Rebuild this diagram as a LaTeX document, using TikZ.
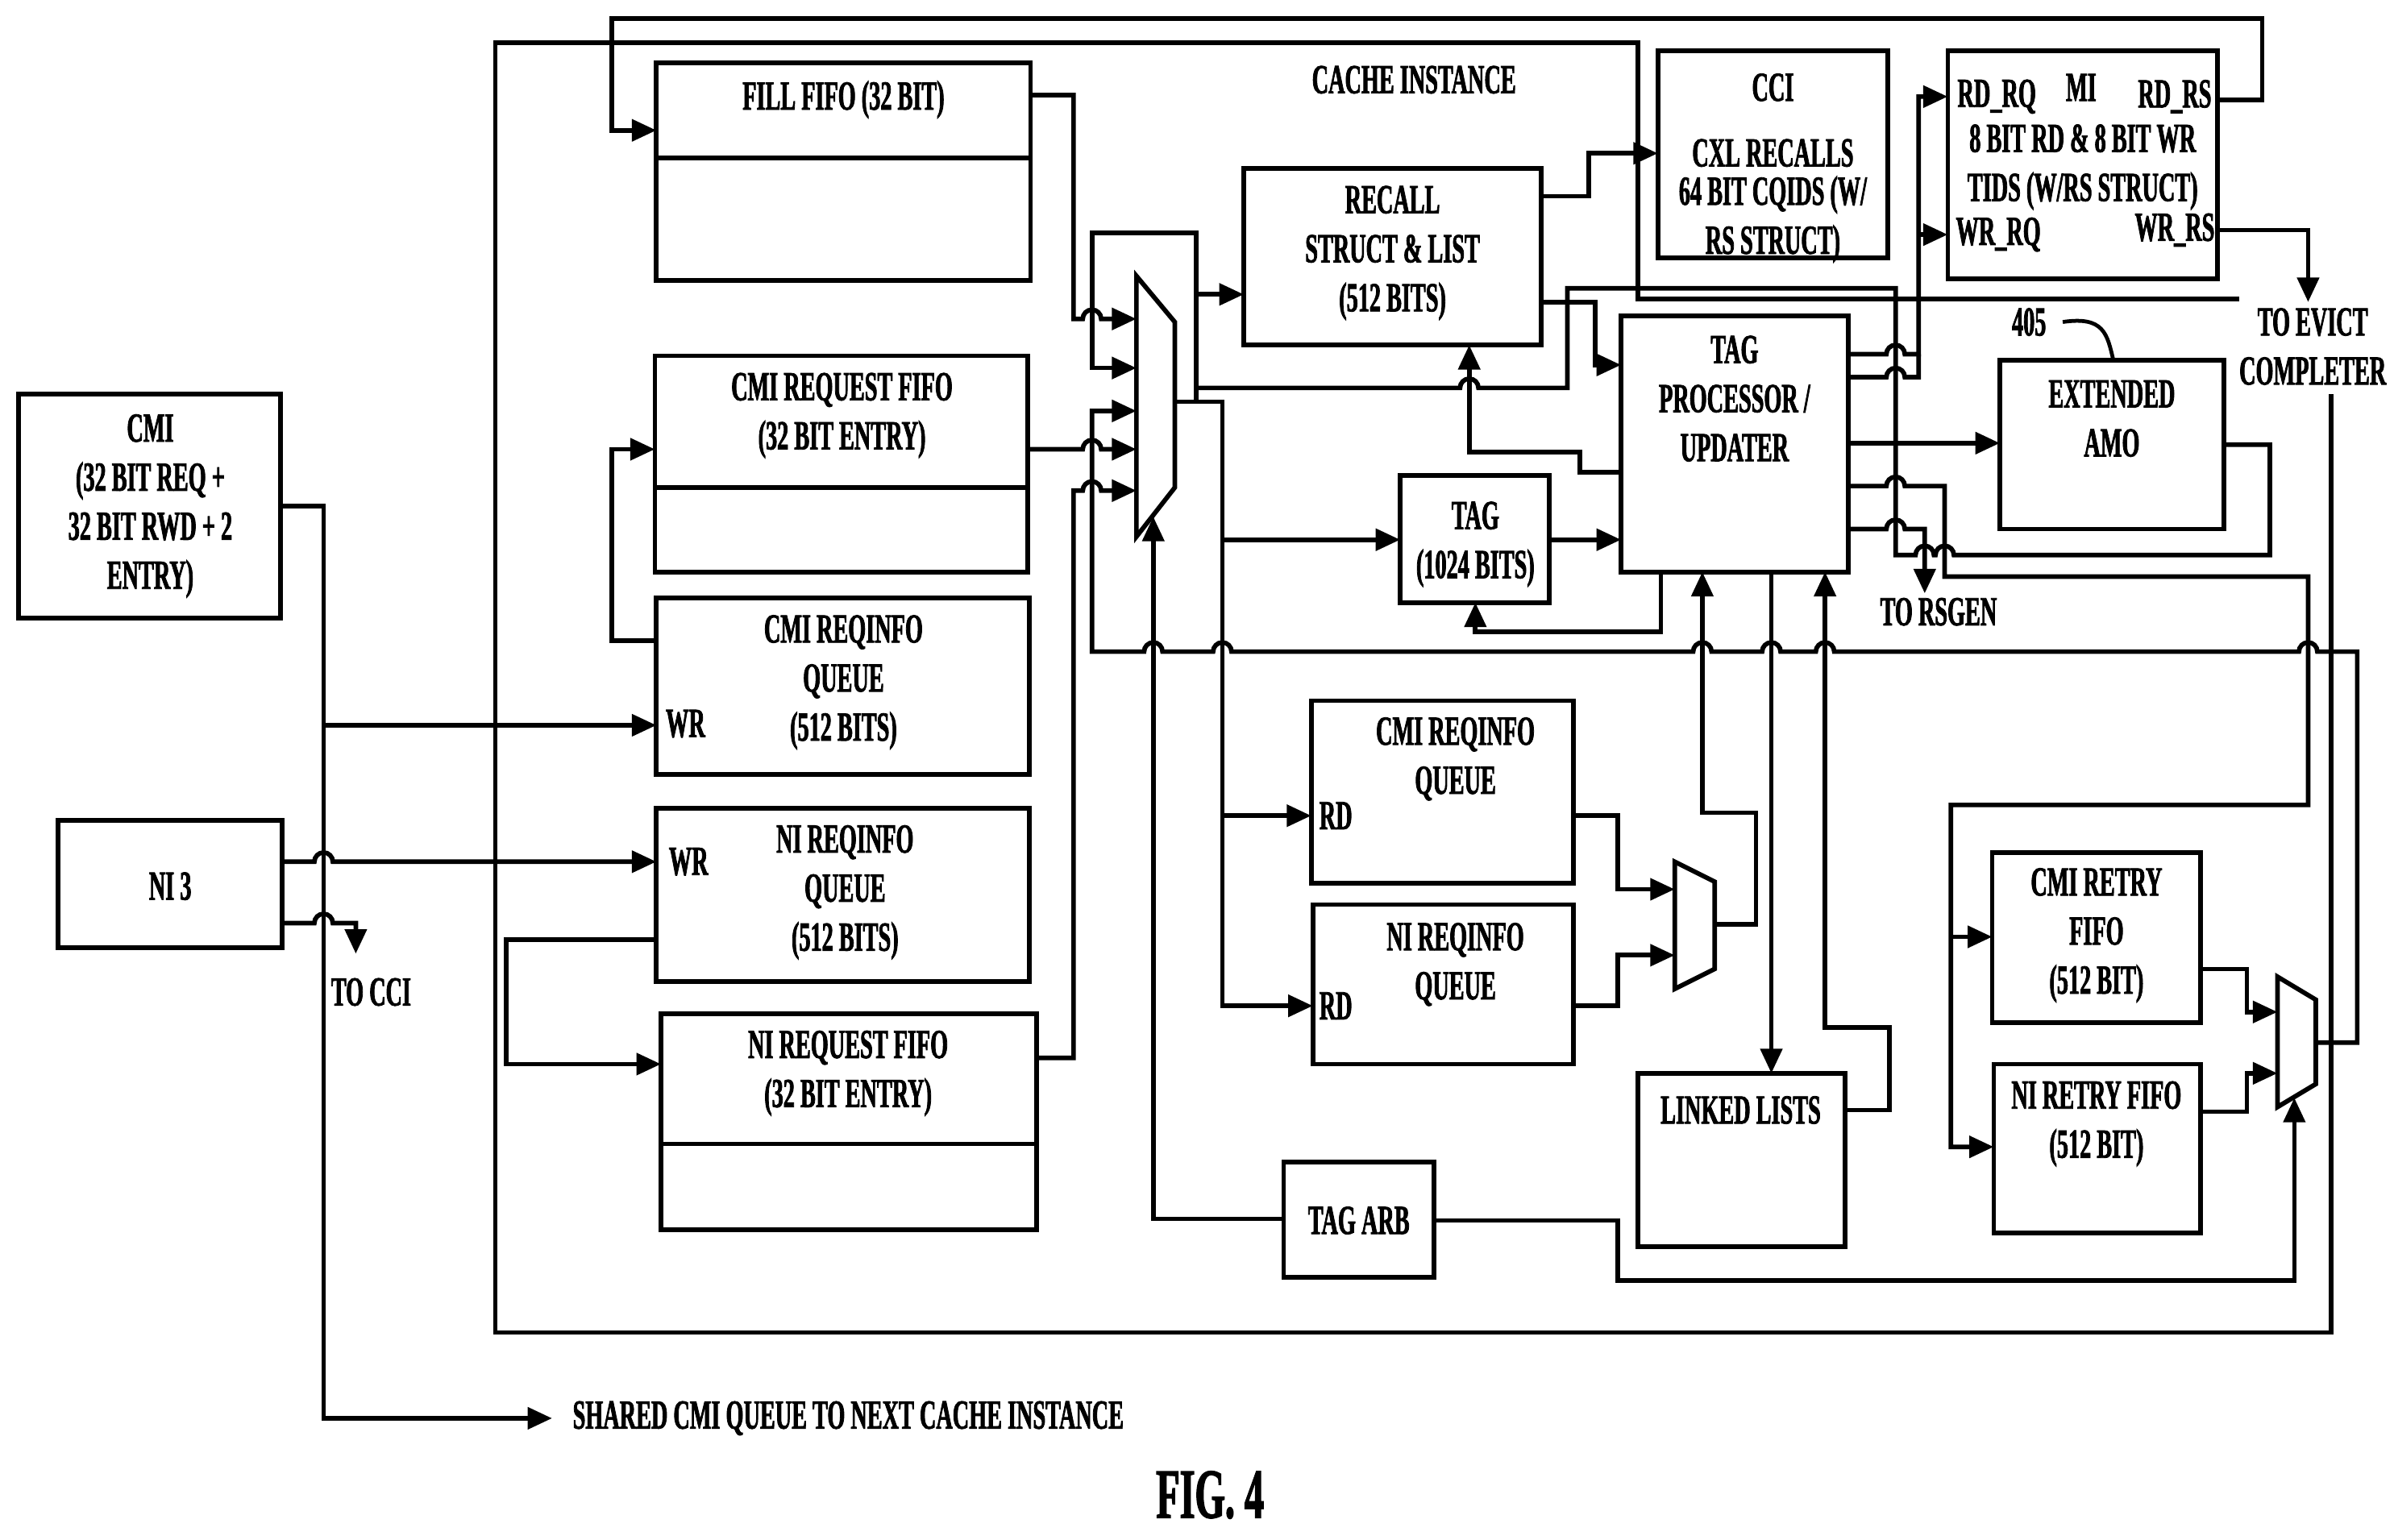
\documentclass[tikz,border=0pt]{standalone}
\usepackage{fontspec}
\setmainfont{Liberation Serif Bold}[FakeStretch=0.55,FakeBold=1.5]
\usetikzlibrary{arrows.meta}
\newcommand{\bx}[5]{\node[box,minimum width={(#4-#2)*1pt},minimum height={(#5-#3)*1pt}] (#1) at ({(#2+#4)/2},{(#3+#5)/2}) {};}
\begin{document}
\begin{tikzpicture}[x=1pt,y=-1pt,line width=3pt,
  box/.style={draw,line width=3pt,inner sep=0pt,outer sep=0pt},
  t/.style={font=\fontsize{27}{32}\selectfont,align=center,inner sep=0pt},
  arr/.style={-{Triangle[length=16pt,width=14pt]}}]
\useasboundingbox (0,0) rectangle (1561,1004);
% boxes
\bx{cmi}{12}{257}{183}{403}
\bx{ni}{38}{535}{184}{618}
\bx{fill}{428}{41}{672}{183}
\bx{cmireq}{427}{232}{670}{373}
\bx{cmiri}{428}{390}{671}{505}
\bx{niri}{428}{527}{671}{640}
\bx{nireq}{431}{661}{676}{802}
\bx{cci}{1081}{33}{1231}{168}
\bx{mi}{1270}{33}{1446}{182}
\bx{recall}{811}{110}{1005}{225}
\bx{tp}{1057}{206}{1205}{373}
\bx{amo}{1304}{235}{1450}{345}
\bx{tag}{913}{310}{1010}{393}
\bx{cmirq}{855}{457}{1026}{576}
\bx{nirq}{856}{590}{1026}{694}
\bx{ll}{1068}{700}{1203}{813}
\bx{arb}{837}{758}{935}{833}
\bx{cmirt}{1299}{556}{1435}{667}
\bx{nirt}{1300}{694}{1435}{804}
\draw (428,103) -- (672,103);
\draw (427,318) -- (670,318);
\draw (431,746) -- (676,746);
% muxes
\draw (741,180) coordinate (mux) -- (766,210) -- (766,318) -- (741,350) -- cycle;
\draw (1092,562) coordinate (smux) -- (1118,575) -- (1118,632) -- (1092,645) -- cycle;
\draw (1485,637) coordinate (rmux) -- (1510,652) -- (1510,707) -- (1485,722) -- cycle;
% texts
\node[t] at (98,330) {CMI\\(32 BIT REQ +\\32 BIT RWD + 2\\ENTRY)};
\node[t] at (111,578) {NI 3};
\node[t] at (550,65) {FILL FIFO (32 BIT)};
\node[t] at (549,271) {CMI REQUEST FIFO\\(32 BIT ENTRY)};
\node[t] at (550,445) {CMI REQINFO\\QUEUE\\(512 BITS)};
\node[t] at (447,472) {WR};
\node[t] at (551,582) {NI REQINFO\\QUEUE\\(512 BITS)};
\node[t] at (449,562) {WR};
\node[t] at (553,700) {NI REQUEST FIFO\\(32 BIT ENTRY)};
\node[t] at (922,52) {CACHE INSTANCE};
\node[t] at (1156,57) {CCI};
\node[t] at (1156,131) {CXL RECALLS\\[-7pt]64 BIT CQIDS (W/\\RS STRUCT)};
\node[t] at (1302,63) {RD\_RQ};
\node[t] at (1357,57) {MI};
\node[t] at (1418,63) {RD\_RS};
\node[t] at (1358,109) {8 BIT RD \& 8 BIT WR\\TIDS (W/RS STRUCT)};
\node[t] at (1303,153) {WR\_RQ};
\node[t] at (1418,150) {WR\_RS};
\node[t] at (908,165) {RECALL\\STRUCT \& LIST\\(512 BITS)};
\node[t] at (1131,260) {TAG\\PROCESSOR /\\UPDATER};
\node[t] at (1377,273) {EXTENDED\\AMO};
\node[t] at (1323,210) {405};
\node[t] at (962,355) {TAG\\(1024 BITS)};
\node[t] at (949,495) {CMI REQINFO\\QUEUE};
\node[t] at (871,532) {RD};
\node[t] at (949,629) {NI REQINFO\\QUEUE};
\node[t] at (871,656) {RD};
\node[t] at (1135,724) {LINKED LISTS};
\node[t] at (886,796) {TAG ARB};
\node[t] at (1367,610) {CMI RETRY\\FIFO\\(512 BIT)};
\node[t] at (1367,733) {NI RETRY FIFO\\(512 BIT)};
\node[t] at (1508,226) {TO EVICT\\COMPLETER};
\node[t] at (1264,399) {TO RSGEN};
\node[t] at (242,647) {TO CCI};
\node[t,anchor=west] at (372,925) {SHARED CMI QUEUE TO NEXT CACHE INSTANCE};
\node[t,font=\fontsize{46}{50}\selectfont] at (789,975) {FIG. 4};
% outer box
\draw (1460,195) -- (1068,195) -- (1068,28) -- (323,28) -- (323,869) -- (1520,869) -- (1520,257);
% connectors
\draw[arr] (1446,65) -- (1475,65) -- (1475,12) -- (399,12) -- (399,85) -- (fill.west |- 0,85);
\draw[arr] (1446,150) -- (1505,150) -- (1505,197);
\draw[arr] (183,330) -- (211,330) -- (211,925) -- (360,925);
\draw[arr] (211,473) -- (cmiri.west |- 0,473);
\draw[arr] (184,562) -- (205,562) arc[start angle=180,end angle=360,radius=6] -- (niri.west |- 0,562);
\draw[arr] (184,602) -- (205,602) arc[start angle=180,end angle=360,radius=6] -- (232,602) -- (232,622);
\draw[arr] (428,418) -- (399,418) -- (399,293) -- (cmireq.west |- 0,293);
\draw[arr] (428,613) -- (330,613) -- (330,694) -- (nireq.west |- 0,694);
\draw[arr] (672,62) -- (700,62) -- (700,208) -- (706,208) arc[start angle=180,end angle=360,radius=6] -- (741,208);
\draw[arr] (780,262) -- (780,152) -- (712,152) -- (712,240) -- (741,240);
\draw[arr] (780,192) -- (recall.west |- 0,192);
\draw[arr] (1510,680) -- (1537,680) -- (1537,425) -- (1511,425) arc[start angle=0,end angle=-180,radius=6]
  -- (1196,425) arc[start angle=0,end angle=-180,radius=6]
  -- (1161,425) arc[start angle=0,end angle=-180,radius=6]
  -- (1116,425) arc[start angle=0,end angle=-180,radius=6]
  -- (803,425) arc[start angle=0,end angle=-180,radius=6]
  -- (758,425) arc[start angle=0,end angle=-180,radius=6]
  -- (712,425) -- (712,268) -- (741,268);
\draw[arr] (670,293) -- (706,293) arc[start angle=180,end angle=360,radius=6] -- (741,293);
\draw[arr] (676,690) -- (700,690) -- (700,320) -- (706,320) arc[start angle=180,end angle=360,radius=6] -- (741,320);
\draw[arr] (766,262) -- (797,262) -- (797,656) -- (nirq.west |- 0,656);
\draw[arr] (797,352) -- (tag.west |- 0,352);
\draw[arr] (797,532) -- (cmirq.west |- 0,532);
\draw[arr] (arb.west |- 0,795) -- (752,795) -- (752,337);
\draw (1450,290) -- (1480,290) -- (1480,362) -- (1274,362) arc[start angle=0,end angle=-180,radius=6]
  -- (1261,362) arc[start angle=0,end angle=-180,radius=6] -- (1236,362) -- (1236,188) -- (1022,188) -- (1022,253)
  -- (964,253) arc[start angle=0,end angle=-180,radius=6] -- (780,253);
\draw[arr] (1005,128) -- (1036,128) -- (1036,100) -- (cci.west |- 0,100);
\draw[arr] (1005,197) -- (1040,197) -- (1040,238) -- (tp.west |- 0,238);
\draw[arr] (1057,308) -- (1030,308) -- (1030,295) -- (958,295) -- (958,225);
\draw[arr] (1010,352) -- (tp.west |- 0,352);
\draw[arr] (1083,373) -- (1083,412) -- (962,412) -- (962,393);
\draw[arr] (1205,231) -- (1230,231) arc[start angle=180,end angle=360,radius=6] -- (1251,231) -- (1251,63) -- (mi.west |- 0,63);
\draw[arr] (1251,153) -- (mi.west |- 0,153);
\draw (1205,246) -- (1230,246) arc[start angle=180,end angle=360,radius=6] -- (1251,246) -- (1251,231);
\draw[arr] (1205,289) -- (amo.west |- 0,289);
\draw[arr] (1205,317) -- (1230,317) arc[start angle=180,end angle=360,radius=6] -- (1268,317) -- (1268,376) -- (1505,376) -- (1505,525) -- (1272,525) -- (1272,748) -- (nirt.west |- 0,748);
\draw[arr] (1272,611) -- (cmirt.west |- 0,611);
\draw[arr] (1205,345) -- (1230,345) arc[start angle=180,end angle=360,radius=6] -- (1255,345) -- (1255,387);
\draw[arr] (1026,532) -- (1055,532) -- (1055,580) -- (1092,580);
\draw[arr] (1026,656) -- (1055,656) -- (1055,623) -- (1092,623);
\draw[arr] (1118,603) -- (1145,603) -- (1145,530) -- (1110,530) -- (1110,373);
\draw[arr] (1155,373) -- (ll.north -| 1155,0);
\draw[arr] (1203,724) -- (1232,724) -- (1232,670) -- (1190,670) -- (1190,373);
\draw[arr] (1435,632) -- (1465,632) -- (1465,660) -- (1485,660);
\draw[arr] (1435,725) -- (1465,725) -- (1465,700) -- (1485,700);
\draw[arr] (935,796) -- (1055,796) -- (1055,835) -- (1496,835) -- (1496,716);
\draw[line width=2.5pt] (1345,210) .. controls (1372,206) and (1374,218) .. (1378,235);
\end{tikzpicture}
\end{document}
